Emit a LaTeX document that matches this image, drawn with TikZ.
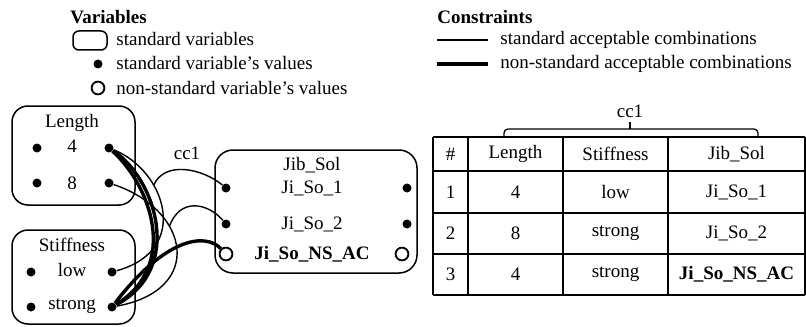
\documentclass[tikz,border=0pt]{standalone}
\usepackage{fontspec}
\setmainfont{Liberation Serif}
\usetikzlibrary{positioning}

\tikzset{
  lbl/.style={font=\fontsize{9.5pt}{11pt}\selectfont, inner sep=0pt},
  head/.style={lbl, font=\fontsize{9.5pt}{11pt}\selectfont\bfseries},
  val/.style={circle, fill, inner sep=0pt, minimum size=4.5pt},
  nsval/.style={circle, draw, line width=0.9pt, inner sep=0pt, minimum size=6.4pt},
  varbox/.style={draw, line width=0.75pt, rounded corners=8pt},
  stdc/.style={line width=0.7pt},
  nsc/.style={line width=1.7pt},
  tbl/.style={line width=0.65pt},
}

\begin{document}
\begin{tikzpicture}[x=0.5pt,y=-0.5pt]
\useasboundingbox (0,0) rectangle (806,326);

% legend: variables
\node[head, anchor=west] (varhd) at (70,17) {Variables};
\node[varbox, rounded corners=3pt, minimum width=17pt, minimum height=9.5pt] (lgbox) at (90,40.5) {};
\node[lbl, anchor=west] (lgboxt) at (116,39) {standard variables};
\node[val] (lgdot) at (98,64) {};
\node[lbl, anchor=west] (lgdott) at (116,63) {standard variable's values};
\node[nsval] (lgcirc) at (98,88) {};
\node[lbl, anchor=west] (lgcirct) at (116,88) {non-standard variable's values};

% legend: constraints
\node[head, anchor=west] (conhd) at (437,17) {Constraints};
\coordinate (lgs1) at (437,40);
\coordinate (lge1) at (488,40);
\draw[stdc] (lgs1) -- (lge1);
\node[lbl, anchor=west] (lgstdt) at (500,40) {standard acceptable combinations};
\coordinate (lgs2) at (437,64);
\coordinate (lge2) at (488,64);
\draw[nsc] (lgs2) -- (lge2);
\node[lbl, anchor=west] (lgnst) at (500,64) {non-standard acceptable combinations};

% variable Length
\draw[varbox] (12,106) rectangle (135,205);
\node[lbl] (lenhd) at (72,123) {Length};
\node[lbl] (l4) at (72,146) {4};
\node[val] (l4a) at (37,148) {};
\node[val] (l4b) at (109,148) {};
\node[lbl] (l8) at (72,183) {8};
\node[val] (l8a) at (37,183) {};
\node[val] (l8b) at (109,183) {};

% variable Stiffness
\draw[varbox] (12,230) rectangle (135,324);
\node[lbl] (sthd) at (72,245) {Stiffness};
\node[lbl] (slow) at (72,270) {low};
\node[val] (slowa) at (31,272) {};
\node[val] (slowb) at (112,272) {};
\node[lbl] (sstr) at (72,306) {strong};
\node[val] (sstra) at (31,307) {};
\node[val] (sstrb) at (112,307) {};

% variable Jib_Sol
\draw[varbox, rounded corners=9pt] (215,150) rectangle (417,273);
\node[lbl] (jbhd) at (312,165) {Jib\_Sol};
\node[lbl] (j1) at (312,188) {Ji\_So\_1};
\node[val] (j1a) at (226,188) {};
\node[val] (j1b) at (407,188) {};
\node[lbl] (j2) at (312,224) {Ji\_So\_2};
\node[val] (j2a) at (226,224) {};
\node[val] (j2b) at (407,224) {};
\node[head] (jns) at (312,254) {Ji\_So\_NS\_AC};
\node[nsval] (jnsa) at (226,254) {};
\node[nsval] (jnsb) at (402,254) {};

% constraint cc1
\node[lbl] (cc) at (187,153) {cc1};
\draw[stdc] (l4b) .. controls (165,170) and (192,250) .. coordinate[pos=0.33] (m1) (slowb);
\draw[stdc] (j1a) .. controls (203,169) and (165,160) .. (m1);
\draw[stdc] (l8b) .. controls (190,210) and (205,290) .. coordinate[pos=0.35] (m2) (sstrb);
\draw[stdc] (j2a) .. controls (208,203) and (180,197) .. (m2);
\draw[nsc] (l4b) .. controls (150,185) and (180,265) .. (sstrb);
\draw[nsc] (l4b) .. controls (155,178) and (185,268) .. (sstrb);
\draw[nsc] (jnsa) .. controls (205,232) and (165,238) .. (sstrb);

% table of cc1
\foreach \y in {137,171,213,254,295}
  \draw[tbl] (433,\y) -- (805,\y);
\foreach \x in {433,468,563,668,805}
  \draw[tbl] (\x,137) -- (\x,295);
\foreach \r/\y/\a/\b/\c/\d in {0/154/\#/Length/Stiffness/Jib\_Sol,
    1/192/1/4/low/Ji\_So\_1, 2/233.5/2/8/strong/Ji\_So\_2,
    3/274.5/3/4/strong/{\bfseries Ji\_So\_NS\_AC}}{
  \node[lbl] (t\r a) at (450.5,\y) {\a};
  \node[lbl] (t\r b) at (515.5,\y) {\b};
  \node[lbl] (t\r c) at (615.5,\y) {\c};
  \node[lbl] (t\r d) at (736.5,\y) {\d};
}
\draw[tbl, rounded corners=2pt] (504,138) -- (504,129) -- (758,129) -- (758,138);
\draw[tbl] (630,129) -- (630,122);
\node[lbl] (cctab) at (630,111) {cc1};
\end{tikzpicture}
\end{document}
